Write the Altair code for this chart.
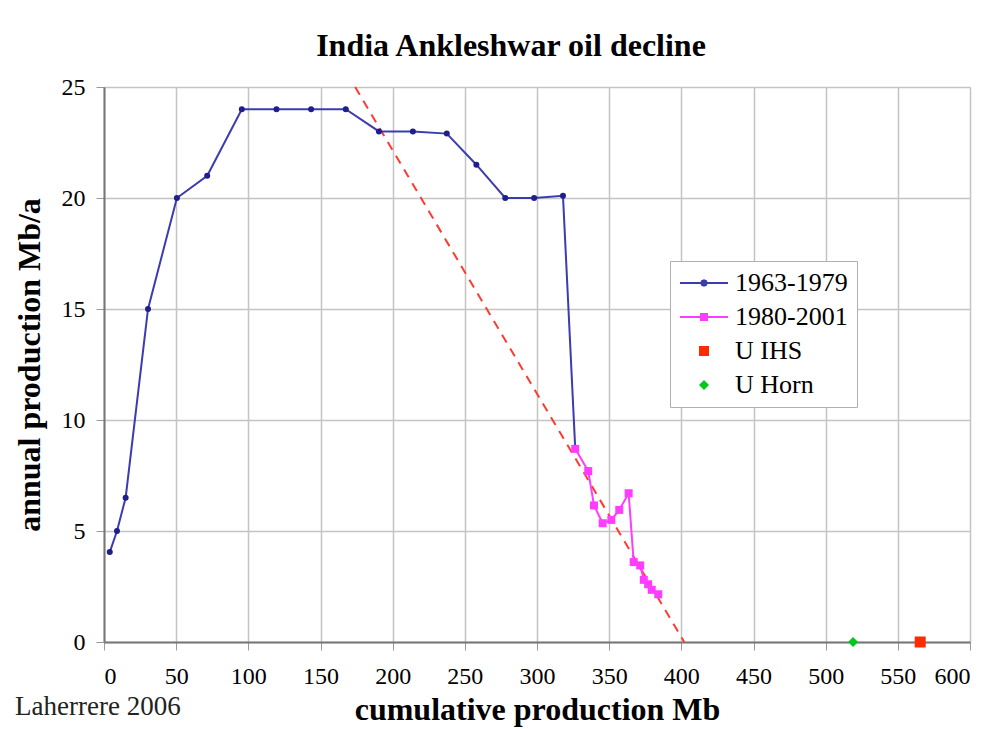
import altair as alt
import pandas as pd

# ---- data ----
s1_x = [4, 9, 15, 30.5, 50.5, 71.5, 95.5, 119.5, 143.5, 167.5, 190.5, 214, 237.5, 258, 278, 298, 318, 326.5]
s1_y = [4.05, 5.0, 6.5, 15.0, 20.0, 21.0, 24.0, 24.0, 24.0, 24.0, 23.0, 23.0, 22.9, 21.5, 20.0, 20.0, 20.1, 8.7]

s2_x = [326.5, 335.5, 339.5, 345.5, 351.5, 357, 363.5, 367, 371.5, 374, 377, 379.5, 384]
s2_y = [8.7, 7.7, 6.15, 5.35, 5.5, 5.95, 6.7, 3.6, 3.45, 2.8, 2.6, 2.35, 2.15]

ihs_x = [565.5]
ihs_y = [0]
horn_x = [519]
horn_y = [0]

trend_x = [174, 402]
trend_y = [25, 0]

series_names = ["1963-1979", "1980-2001", "U IHS", "U Horn"]
line_colors = ["#3C3CB0", "#FF3CFF", "#FF2A00", "#00C81E"]
point_colors = ["#1E1E8C", "#FF3CFF", "#FF2A00", "#00C81E"]
series_shapes = ["circle", "square", "square", "diamond"]
series_sizes = [36, 64, 121, 100]

FONT = "Liberation Serif"

rows = []
for x, y in zip(s1_x, s1_y):
    rows.append({"x": x, "y": y, "series": "1963-1979"})
for x, y in zip(s2_x, s2_y):
    rows.append({"x": x, "y": y, "series": "1980-2001"})
for x, y in zip(ihs_x, ihs_y):
    rows.append({"x": x, "y": y, "series": "U IHS"})
for x, y in zip(horn_x, horn_y):
    rows.append({"x": x, "y": y, "series": "U Horn"})
df = pd.DataFrame(rows)
df["order"] = range(len(df))

trend = pd.DataFrame({"x": trend_x, "y": trend_y})
note = pd.DataFrame({"t": ["Laherrere 2006"]})

xscale = alt.Scale(domain=[0, 600], nice=False, zero=False)
yscale = alt.Scale(domain=[0, 25], nice=False)

xaxis = alt.Axis(values=list(range(0, 601, 50)), title="cumulative production Mb",
                 labelFont=FONT, labelFontSize=24, labelColor="#000", labelPadding=14,
                 titleFont=FONT, titleFontSize=32, titleFontWeight="bold", titleColor="#000",
                 titlePadding=6, tickSize=8, tickColor="#999", domainColor="#777",
                 domainWidth=2, gridColor="#c4c4c4", gridWidth=1.5)
yaxis = alt.Axis(values=list(range(0, 26, 5)), title="annual production Mb/a",
                 labelFont=FONT, labelFontSize=24, labelColor="#000", labelPadding=11,
                 titleFont=FONT, titleFontSize=32, titleFontWeight="bold", titleColor="#000",
                 titlePadding=15, tickSize=8, tickColor="#999", domainColor="#777",
                 domainWidth=2, gridColor="#c4c4c4", gridWidth=1.5)

color_scale = alt.Scale(domain=series_names, range=line_colors)

shape_expr = (
    "datum.value === '1963-1979' ? 'M-4.8,0H4.8M0.55,0L0.39,0.39L0,0.55L-0.39,0.39L-0.55,0L-0.39,-0.39L0,-0.55L0.39,-0.39Z' : "
    "datum.value === '1980-2001' ? 'M-4.8,0H4.8M-0.6,-0.6H0.6V0.6H-0.6Z' : "
    "datum.value === 'U IHS' ? 'square' : 'diamond'"
)

legend = alt.Legend(
    title=None, orient="none", legendX=566, legendY=174,
    labelFont=FONT, labelFontSize=26, labelColor="#000",
    fillColor="#ffffff", strokeColor="#b0b0b0", padding=9,
    symbolSize=100, symbolOffset=12, labelOffset=18, rowPadding=8,
    symbolType={"expr": shape_expr},
    symbolFillColor={"expr": "scale('color', datum.value)"},
    symbolStrokeColor={"expr": "scale('color', datum.value)"},
    symbolStrokeWidth={"expr": "datum.value === '1963-1979' || datum.value === '1980-2001' ? 2 : 0"},
    symbolOpacity=1,
)

base = alt.Chart(df)

lines = base.transform_filter(
    alt.FieldOneOfPredicate(field="series", oneOf=["1963-1979", "1980-2001"])
).mark_line(strokeWidth=2).encode(
    x=alt.X("x:Q", scale=xscale, axis=xaxis),
    y=alt.Y("y:Q", scale=yscale, axis=yaxis),
    color=alt.Color("series:N", scale=color_scale, legend=legend),
    order="order:Q",
)

trend_line = alt.Chart(trend).mark_line(
    color="#FF3B30", strokeWidth=2, strokeDash=[9, 7]
).encode(x=alt.X("x:Q", scale=xscale), y=alt.Y("y:Q", scale=yscale))

point_layers = []
for name, col, shp, sz in zip(series_names, point_colors, series_shapes, series_sizes):
    point_layers.append(
        base.transform_filter(alt.datum.series == name)
        .mark_point(filled=True, opacity=1, color=col, shape=shp, size=sz)
        .encode(x=alt.X("x:Q", scale=xscale), y=alt.Y("y:Q", scale=yscale))
    )

note_text = alt.Chart(note).mark_text(
    font=FONT, fontSize=27, align="left", baseline="middle", color="#222"
).encode(x=alt.value(-89), y=alt.value(620), text="t:N")

chart = alt.layer(trend_line, lines, *point_layers, note_text).properties(
    width=866, height=555,
    title=alt.Title("India Ankleshwar oil decline", font=FONT, fontSize=32,
                    fontWeight="bold", color="#000", offset=12, dx=-26),
    padding={"left": 96, "top": 79, "right": 27, "bottom": 87},
    autosize=alt.AutoSizeParams(type="none"),
).configure_view(stroke="#aaaaaa", strokeWidth=2).configure(background="#ffffff")

chart.save("out.html", embed_options={"renderer": "svg", "actions": False})
